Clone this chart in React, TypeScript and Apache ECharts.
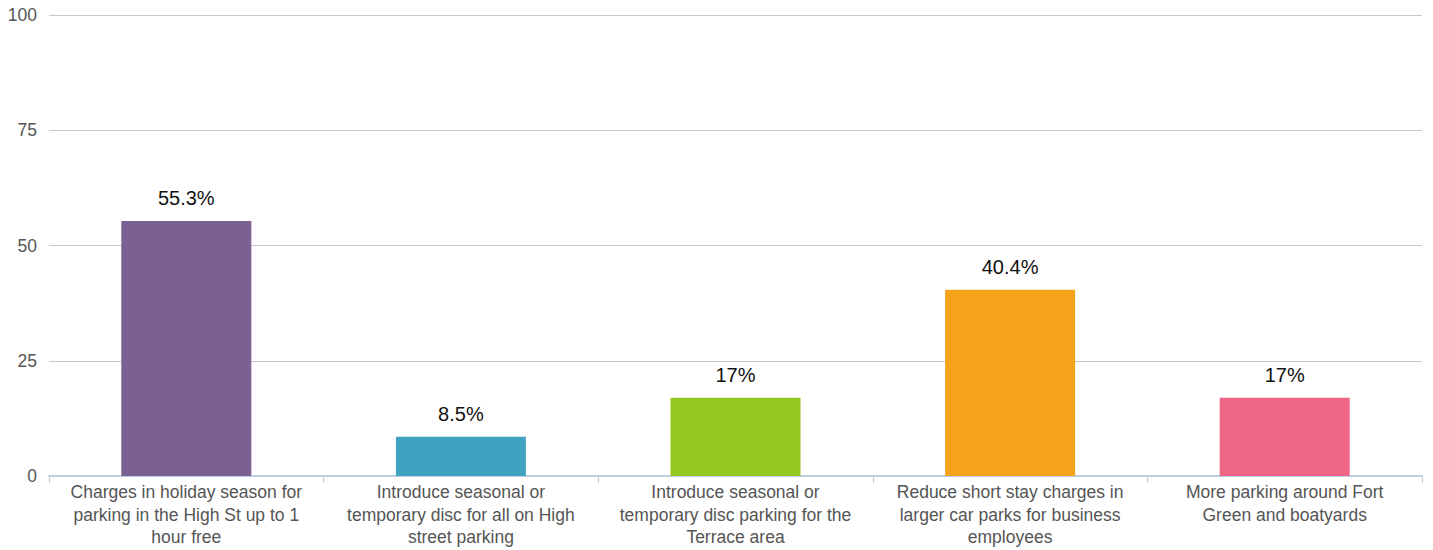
import React, { useEffect, useRef } from "react";
import * as echarts from "echarts";

const categories = [
  "Charges in holiday season for\nparking in the High St up to 1\nhour free",
  "Introduce seasonal or\ntemporary disc for all on High\nstreet parking",
  "Introduce seasonal or\ntemporary disc parking for the\nTerrace area",
  "Reduce short stay charges in\nlarger car parks for business\nemployees",
  "More parking around Fort\nGreen and boatyards",
];
const values = [55.3, 8.5, 17, 40.4, 17];
const valueLabels = ["55.3%", "8.5%", "17%", "40.4%", "17%"];
const colors = ["#7B6093", "#3FA2C1", "#95C823", "#F4A31B", "#EF6585"];
const yTicks = [0, 25, 50, 75, 100];

export default function App() {
  const ref = useRef<HTMLDivElement>(null);
  useEffect(() => {
    if (!ref.current) return;
    const chart = echarts.init(ref.current, null, { renderer: "svg" });
    const font = "'Liberation Sans', Arial, Helvetica, sans-serif";
    chart.setOption({
      animation: false,
      textStyle: { fontFamily: font },
      grid: { left: 49, right: 11, top: 15, bottom: 74, containLabel: false },
      xAxis: {
        type: "category",
        data: categories,
        axisLine: { lineStyle: { color: "#bccfe0", width: 2 } },
        axisTick: { show: true, alignWithLabel: false, length: 7, lineStyle: { color: "#bccfe0", width: 1 } },
        axisLabel: {
          color: "#555",
          fontSize: 17.5,
          lineHeight: 22.5,
          margin: 5,
          interval: 0,
          fontFamily: font,
        },
      },
      yAxis: {
        type: "value",
        min: yTicks[0],
        max: yTicks[yTicks.length - 1],
        interval: 25,
        axisLine: { show: false },
        axisTick: { show: false },
        splitLine: { lineStyle: { color: "#c8c8c8", width: 1 } },
        axisLabel: { color: "#555", fontSize: 17.5, margin: 12, fontFamily: font },
      },
      series: [
        {
          type: "bar",
          barWidth: 130,
          data: values.map((v, i) => ({ value: v, itemStyle: { color: colors[i] } })),
          label: {
            show: true,
            position: "top",
            distance: 13,
            color: "#111",
            fontSize: 20,
            fontFamily: font,
            formatter: (p: any) => valueLabels[p.dataIndex],
          },
        },
      ],
    });
    return () => chart.dispose();
  }, []);
  return (
    <div
      ref={ref}
      style={{ position: "fixed", left: 0, top: 0, width: 1433, height: 550, background: "#fff" }}
    />
  );
}
